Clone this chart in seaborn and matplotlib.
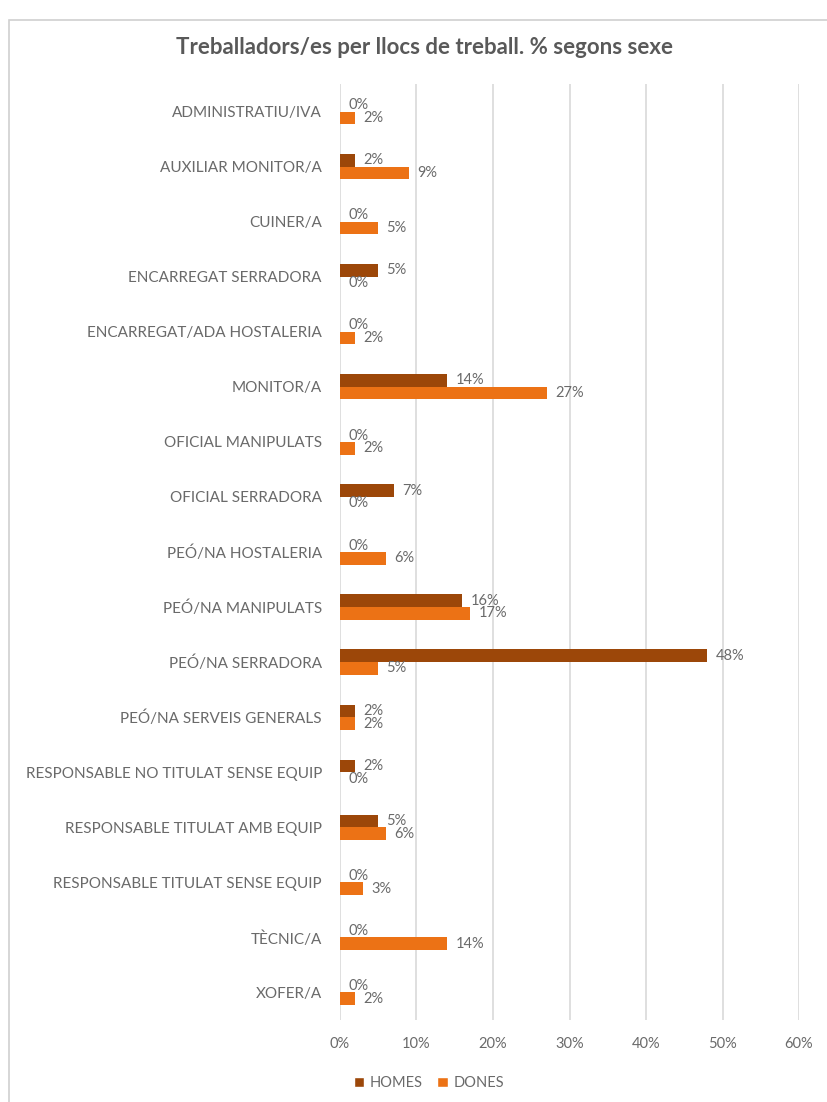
import matplotlib
matplotlib.use("Agg")
import matplotlib.pyplot as plt
from matplotlib.patches import Patch, Rectangle
from matplotlib.ticker import FuncFormatter
import pandas as pd
import seaborn as sns

llocs = [
    "ADMINISTRATIU/IVA",
    "AUXILIAR MONITOR/A",
    "CUINER/A",
    "ENCARREGAT SERRADORA",
    "ENCARREGAT/ADA HOSTALERIA",
    "MONITOR/A",
    "OFICIAL MANIPULATS",
    "OFICIAL SERRADORA",
    "PEÓ/NA HOSTALERIA",
    "PEÓ/NA MANIPULATS",
    "PEÓ/NA SERRADORA",
    "PEÓ/NA SERVEIS GENERALS",
    "RESPONSABLE NO TITULAT SENSE EQUIP",
    "RESPONSABLE TITULAT AMB EQUIP",
    "RESPONSABLE TITULAT SENSE EQUIP",
    "TÈCNIC/A",
    "XOFER/A",
]
homes = [0, 2, 0, 5, 0, 14, 0, 7, 0, 16, 48, 2, 2, 5, 0, 0, 0]
dones = [2, 9, 5, 0, 2, 27, 2, 0, 6, 17, 5, 2, 0, 6, 3, 14, 2]
sexes = ["HOMES", "DONES"]
x_ticks = [0, 10, 20, 30, 40, 50, 60]

colors = {"HOMES": "#9C4709", "DONES": "#EC7215"}
text_color = "#6a6a6a"
grid_color = "#d9d9d9"

df = pd.DataFrame({
    "lloc": llocs * 2,
    "sexe": [sexes[0]] * len(llocs) + [sexes[1]] * len(llocs),
    "pct": homes + dones,
})

sns.set_theme(style="white")
plt.rcParams["font.family"] = ["Lato", "DejaVu Sans"]

fig = plt.figure(figsize=(8.28, 11.02), dpi=100)
W, H = 828, 1102
left, right, top, bottom = 340, 799, 84, 1020
ax = fig.add_axes([left / W, 1 - bottom / H, (right - left) / W, (bottom - top) / H])

sns.barplot(data=df, y="lloc", x="pct", hue="sexe", hue_order=sexes,
            order=llocs, palette=colors, orient="h", width=0.46,
            saturation=1, legend=False, linewidth=0, ax=ax)

for cont in ax.containers:
    ax.bar_label(cont, labels=[f"{b.get_width():.0f}%" for b in cont],
                 padding=6, fontsize=10.5, color=text_color)

ax.set_xlim(0, 60)
ax.set_xticks(x_ticks)
ax.xaxis.set_major_formatter(FuncFormatter(lambda v, p: f"{v:.0f}%"))
ax.set_xlabel("")
ax.set_ylabel("")
ax.grid(axis="x", color=grid_color, linewidth=1.2)
ax.grid(axis="y", visible=False)
ax.set_axisbelow(True)
for s in ax.spines.values():
    s.set_visible(False)
ax.tick_params(axis="x", length=0, pad=12, labelsize=10.5, labelcolor=text_color)
ax.tick_params(axis="y", length=0, pad=13, labelsize=11, labelcolor=text_color)

fig.text(425 / W, 1 - 48 / H, "Treballadors/es per llocs de treball. % segons sexe",
         ha="center", va="center", fontsize=16, fontweight="bold",
         color="#595959")

handles = [Patch(facecolor=colors[s], label=s) for s in sexes]
fig.legend(handles=handles, loc="center", bbox_to_anchor=(429 / W, 1 - 1083 / H),
           ncol=2, frameon=False, fontsize=10.5, labelcolor=text_color,
           handlelength=0.7, handleheight=0.7, handletextpad=0.4,
           columnspacing=1.0)

fig.patches.append(Rectangle((9 / W, -0.01), 1.0, 1 - 20 / H + 0.01,
                             transform=fig.transFigure, fill=False,
                             edgecolor="#d0d0d0", linewidth=1.2))

fig.savefig("out.png", dpi=100)
